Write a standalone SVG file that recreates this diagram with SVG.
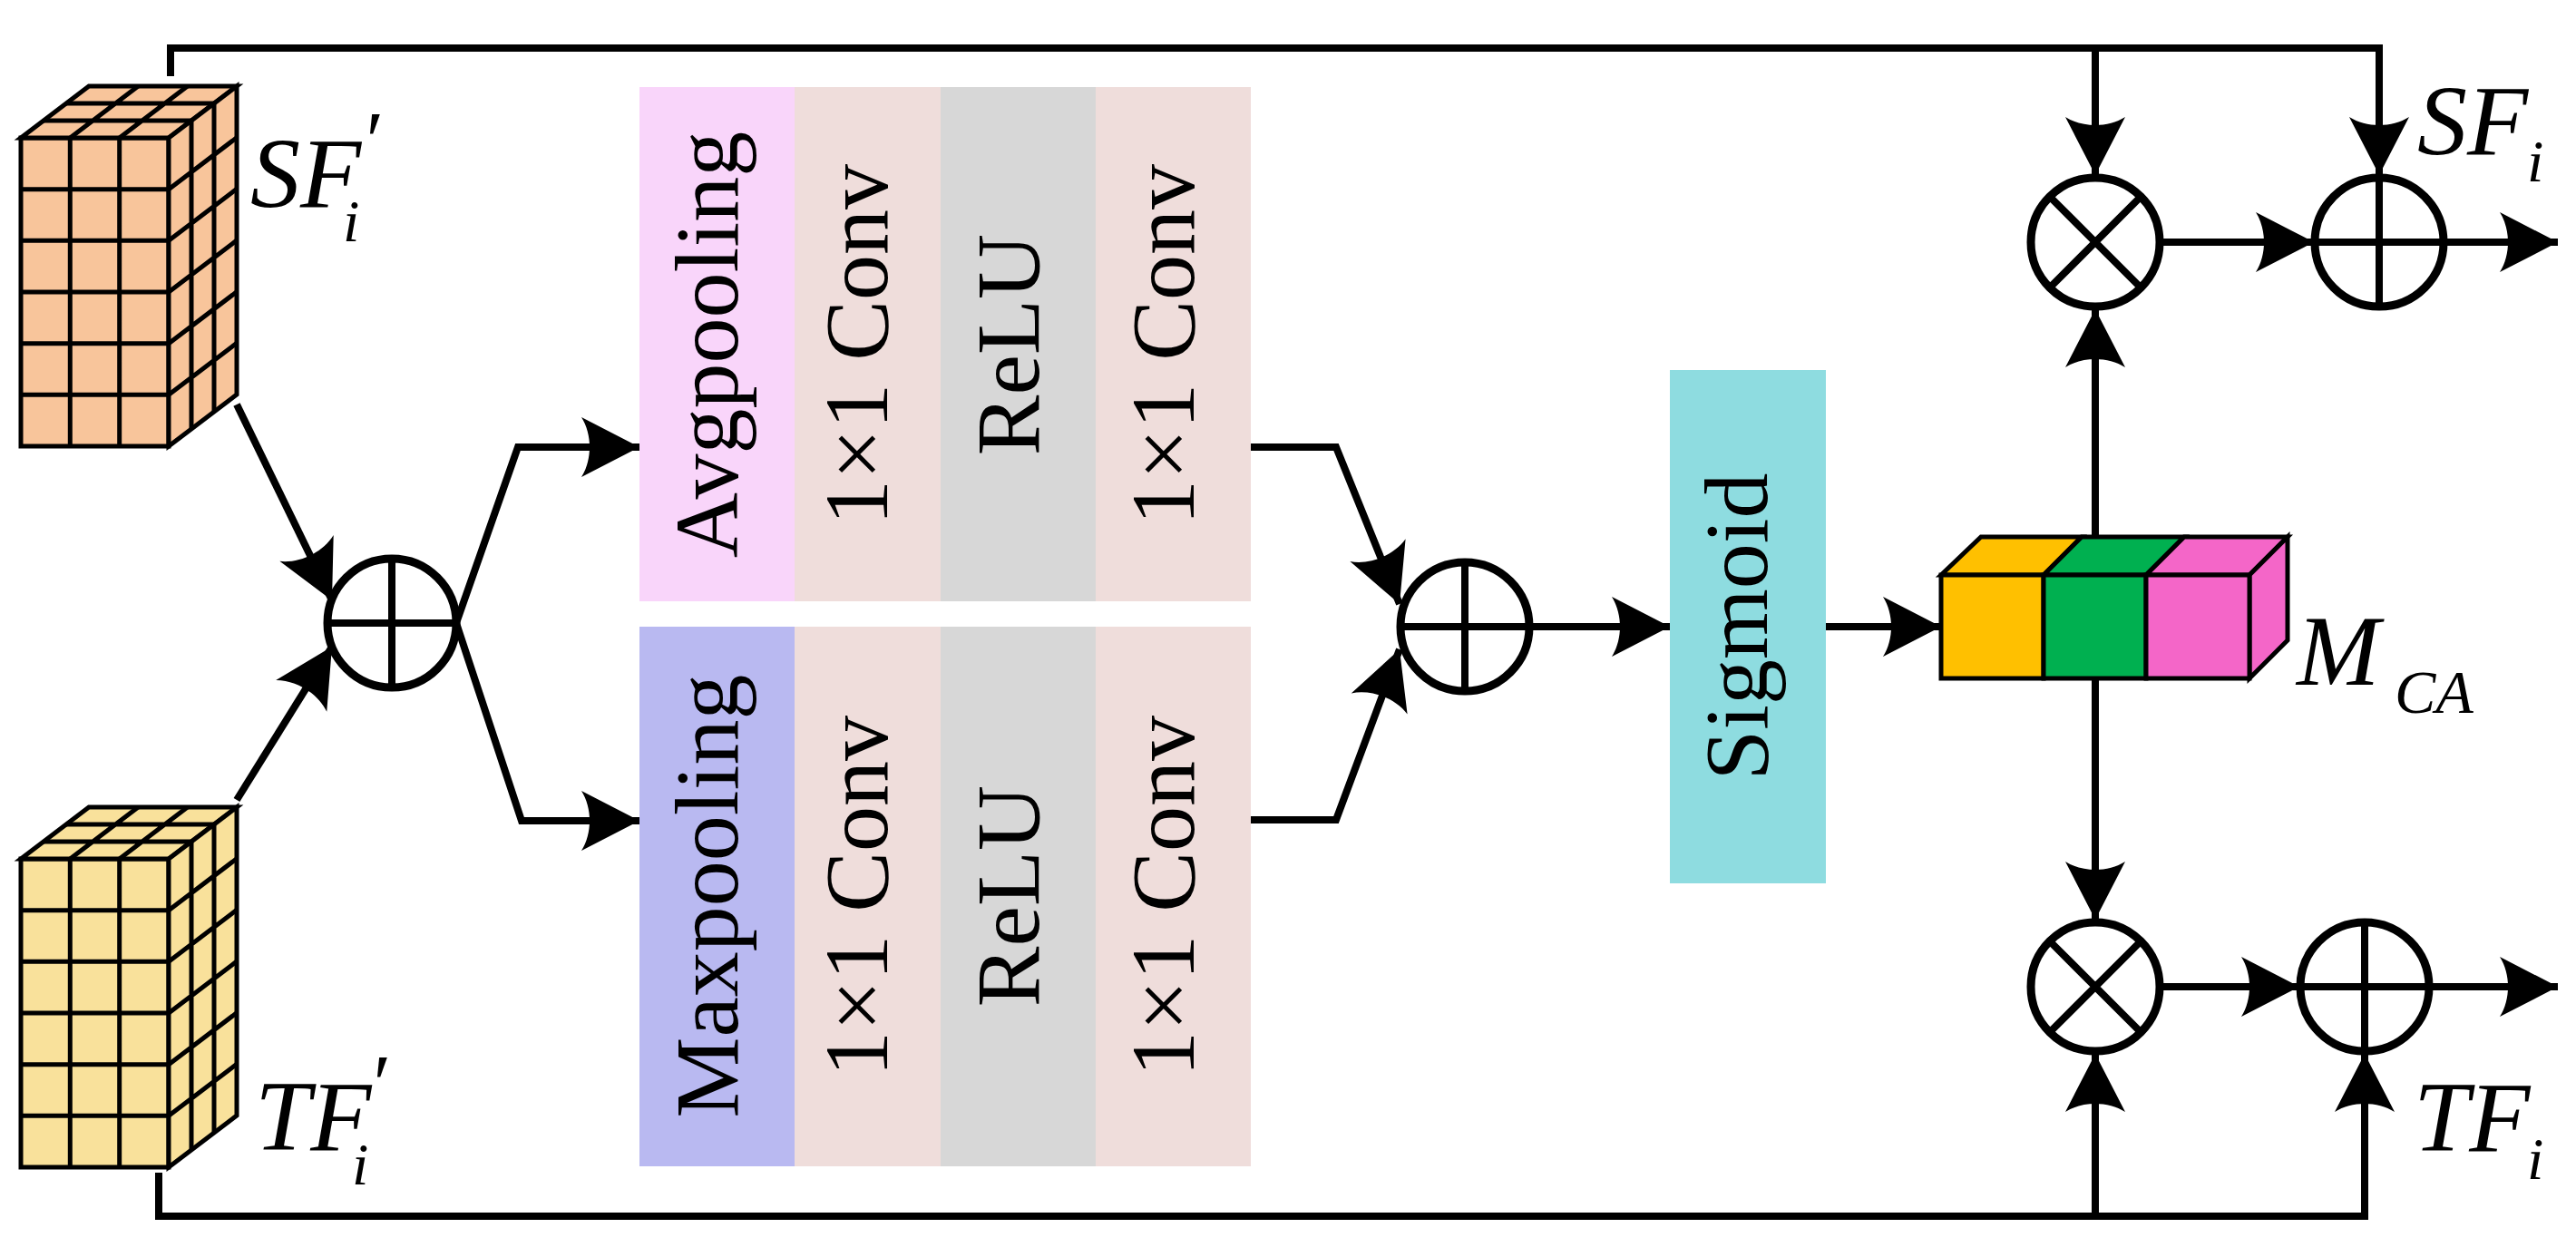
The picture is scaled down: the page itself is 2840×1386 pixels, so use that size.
<svg xmlns="http://www.w3.org/2000/svg" width="2840" height="1386" viewBox="0 0 2840 1386">
<style>
text{font-family:'Liberation Serif','DejaVu Serif',serif}
.ln{fill:none;stroke:#000;stroke-width:8;stroke-linejoin:miter}
.op{fill:#fff;stroke:#000;stroke-width:9}
.opx{stroke:#000;stroke-width:8}
.lbl{font-size:100px;fill:#000}
.m{font-style:italic;fill:#000}
.cube{stroke:#000;stroke-width:5;stroke-linejoin:miter}
</style>
<defs>
<marker id="ah" markerUnits="userSpaceOnUse" markerWidth="80" markerHeight="80" viewBox="-70 -40 80 80" refX="0" refY="0" orient="auto">
<path d="M0,0 L-64,-33 C-52,-14 -52,14 -64,33 Z" fill="#000"/>
</marker>
<g id="cubeG" class="cube">
<polygon points="0,0 163,0 163,340 0,340"/>
<polygon points="0,0 75,-57 238,-57 163,0"/>
<polygon points="163,0 238,-57 238,283 163,340"/>
<path fill="none" d="M54.3,0V340M108.7,0V340M0,56.7H163M0,113.3H163M0,170H163M0,226.7H163M0,283.3H163M25,-19H188M50,-38H213M54.3,0L129.3,-57M108.7,0L183.7,-57M188,-19V321M213,-38V302M163,56.7l75,-57M163,113.3l75,-57M163,170l75,-57M163,226.7l75,-57M163,283.3l75,-57"/>
</g>
</defs>
<rect width="2840" height="1386" fill="#fff"/>

<g id="connectors" class="ln">
<polyline points="188,84 188,53 2623,53 2623,193" marker-end="url(#ah)"/>
<line x1="2310" y1="53" x2="2310" y2="193" marker-end="url(#ah)"/>
<line x1="261" y1="446" x2="366" y2="662" marker-end="url(#ah)"/>
<line x1="261" y1="882" x2="366" y2="713" marker-end="url(#ah)"/>
<polyline points="503,687 571,493 705,493" marker-end="url(#ah)"/>
<polyline points="503,687 575,905 705,905" marker-end="url(#ah)"/>
<polyline points="1379,493 1473,493 1543,666" marker-end="url(#ah)"/>
<polyline points="1379,904 1473,904 1543,716" marker-end="url(#ah)"/>
<line x1="1687" y1="691" x2="1841" y2="691" marker-end="url(#ah)"/>
<line x1="2013" y1="691" x2="2140" y2="691" marker-end="url(#ah)"/>
<line x1="2310" y1="592" x2="2310" y2="341" marker-end="url(#ah)"/>
<line x1="2310" y1="748" x2="2310" y2="1014" marker-end="url(#ah)"/>
<line x1="2382" y1="267" x2="2551" y2="267" marker-end="url(#ah)"/>
<line x1="2695" y1="267" x2="2820" y2="267" marker-end="url(#ah)"/>
<line x1="2382" y1="1088" x2="2535" y2="1088" marker-end="url(#ah)"/>
<line x1="2679" y1="1088" x2="2820" y2="1088" marker-end="url(#ah)"/>
<polyline points="175,1293 175,1341 2607,1341 2607,1162" marker-end="url(#ah)"/>
<line x1="2310" y1="1341" x2="2310" y2="1162" marker-end="url(#ah)"/>
</g>

<g id="sf-cube"><use href="#cubeG" x="23" y="152" fill="#F8C59B"/>
<text class="m" x="276" y="228" font-size="110">SF</text><text class="m" x="398" y="186" font-size="90">′</text><text class="m" x="378" y="266" font-size="66">i</text></g>
<g id="tf-cube"><use href="#cubeG" x="23" y="947" fill="#F9E19B"/>
<text class="m" x="281" y="1268" font-size="110">TF</text><text class="m" x="406" y="1226" font-size="90">′</text><text class="m" x="388" y="1306" font-size="66">i</text></g>

<g id="add1"><circle class="op" cx="432" cy="687" r="71"/><path class="opx" d="M361,687H503M432,616V758"/></g>

<g id="avg-branch">
<rect x="705" y="96" width="171" height="567" fill="#F9D5FA"/>
<rect x="876" y="96" width="161" height="567" fill="#EFDDDB"/>
<rect x="1037" y="96" width="171" height="567" fill="#D7D7D7"/>
<rect x="1208" y="96" width="171" height="567" fill="#EFDDDB"/>
<text class="lbl" text-anchor="middle" transform="translate(813,380) rotate(-90)">Avgpooling</text>
<text class="lbl" text-anchor="middle" transform="translate(978,380) rotate(-90)">1×1 Conv</text>
<text class="lbl" text-anchor="middle" transform="translate(1145,380) rotate(-90)">ReLU</text>
<text class="lbl" text-anchor="middle" transform="translate(1316,380) rotate(-90)">1×1 Conv</text>
</g>
<g id="max-branch">
<rect x="705" y="691" width="171" height="595" fill="#B9B9F1"/>
<rect x="876" y="691" width="161" height="595" fill="#EFDDDB"/>
<rect x="1037" y="691" width="171" height="595" fill="#D7D7D7"/>
<rect x="1208" y="691" width="171" height="595" fill="#EFDDDB"/>
<text class="lbl" text-anchor="middle" transform="translate(813,988) rotate(-90)">Maxpooling</text>
<text class="lbl" text-anchor="middle" transform="translate(978,988) rotate(-90)">1×1 Conv</text>
<text class="lbl" text-anchor="middle" transform="translate(1145,988) rotate(-90)">ReLU</text>
<text class="lbl" text-anchor="middle" transform="translate(1316,988) rotate(-90)">1×1 Conv</text>
</g>

<g id="add2"><circle class="op" cx="1615" cy="691" r="71"/><path class="opx" d="M1544,691H1686M1615,620V762"/></g>

<g id="sigmoid"><rect x="1841" y="408" width="172" height="566" fill="#8EDCE0"/>
<text class="lbl" text-anchor="middle" transform="translate(1948,691) rotate(-90)">Sigmoid</text></g>

<g id="mca" class="cube">
<polygon points="2140,634 2184,592 2295,592 2253,634" fill="#FFC000"/>
<polygon points="2253,634 2295,592 2408,592 2366,634" fill="#00B050"/>
<polygon points="2366,634 2408,592 2522,592 2480,634" fill="#F466C8"/>
<polygon points="2480,634 2522,592 2522,706 2480,748" fill="#F466C8"/>
<rect x="2140" y="634" width="113" height="114" fill="#FFC000"/>
<rect x="2253" y="634" width="113" height="114" fill="#00B050"/>
<rect x="2366" y="634" width="114" height="114" fill="#F466C8"/>
<text class="m" x="2532" y="755" font-size="110" stroke="none">M</text><text class="m" x="2640" y="786" font-size="68" stroke="none">CA</text>
</g>

<g id="mul-top"><circle class="op" cx="2310" cy="267" r="71"/><path class="opx" d="M2260,217L2360,317M2360,217L2260,317"/></g>
<g id="add-top"><circle class="op" cx="2623" cy="267" r="71"/><path class="opx" d="M2552,267H2694M2623,196V338"/>
<text class="m" x="2665" y="170" font-size="110">SF</text><text class="m" x="2786" y="200" font-size="66">i</text></g>
<g id="mul-bot"><circle class="op" cx="2310" cy="1088" r="71"/><path class="opx" d="M2260,1038L2360,1138M2360,1038L2260,1138"/></g>
<g id="add-bot"><circle class="op" cx="2607" cy="1088" r="71"/><path class="opx" d="M2536,1088H2678M2607,1017V1159"/>
<text class="m" x="2661" y="1269" font-size="110">TF</text><text class="m" x="2786" y="1300" font-size="66">i</text></g>
</svg>
